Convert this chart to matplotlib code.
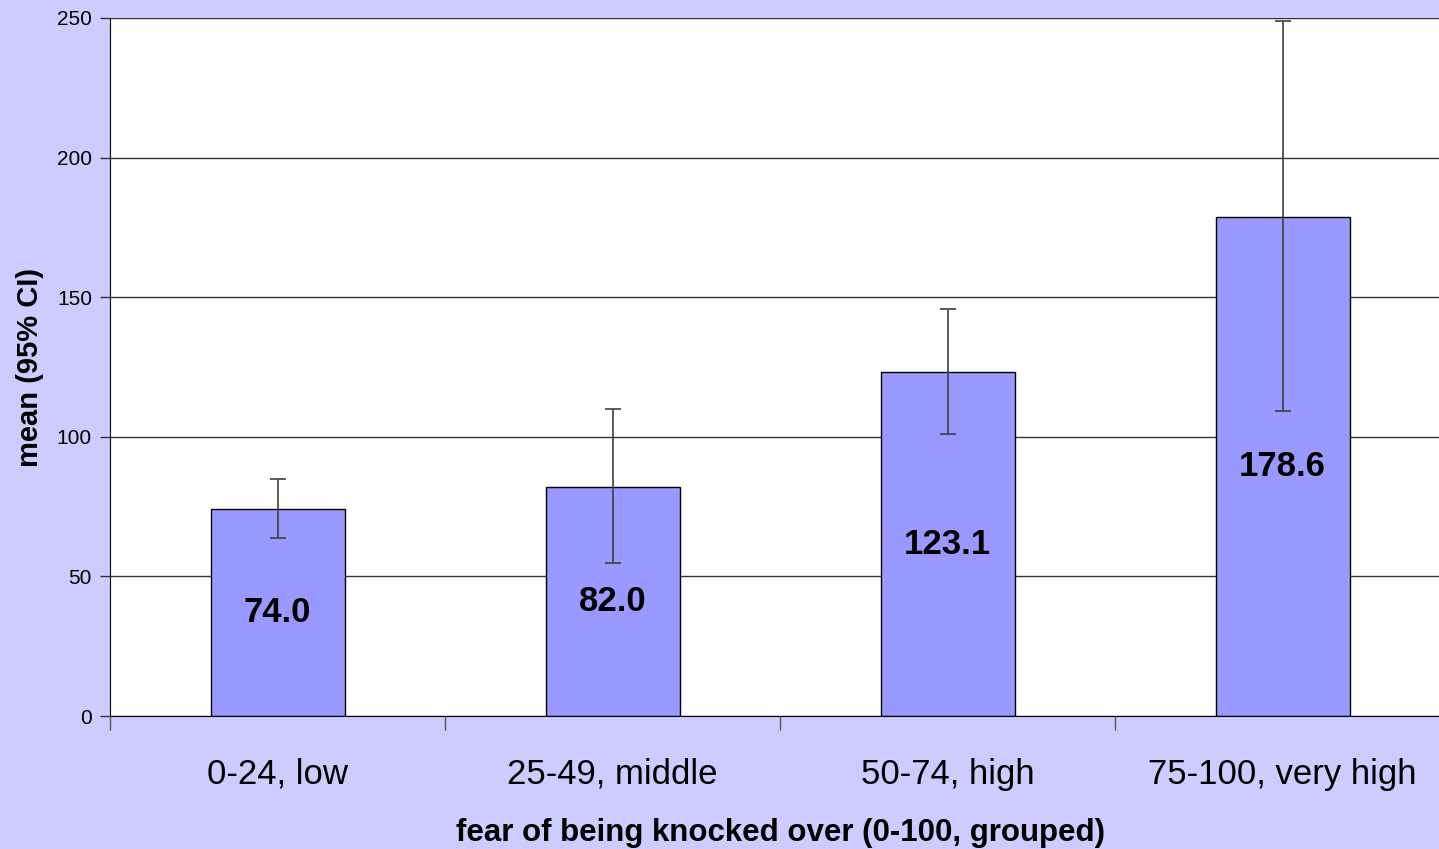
import numpy as np
import matplotlib.pyplot as plt

categories = ["0-24, low", "25-49, middle", "50-74, high", "75-100, very high"]
means = [74.0, 82.0, 123.1, 178.6]
ci_low = [63.7, 54.8, 100.9, 109.2]
ci_high = [84.9, 109.9, 145.8, 248.8]

plt.rcParams['font.family'] = ['Liberation Sans', 'DejaVu Sans']

fig = plt.figure(figsize=(14.39, 8.49), dpi=100)
fig.patch.set_facecolor('#CCCCFF')
ax = fig.add_axes([110 / 1439, 133 / 849, 1340 / 1439, 698 / 849])
ax.set_facecolor('white')

x = np.arange(len(categories))
means = np.array(means)
yerr = [means - np.array(ci_low), np.array(ci_high) - means]

ax.set_axisbelow(True)
ax.yaxis.grid(True, color='#333333', linewidth=1)
ax.bar(x, means, width=0.4, color='#9999FF', edgecolor='black', linewidth=1, zorder=2)
ax.errorbar(x, means, yerr=yerr, fmt='none', ecolor='#404040', elinewidth=1.2,
            capsize=6, capthick=1.2, zorder=3)

# value labels in the middle of each bar
for xi, m in zip(x, means):
    ax.text(xi, m / 2, f"{m:.1f}", ha='center', va='center', fontsize=25,
            fontweight='bold', zorder=4)

ax.set_xlim(-0.5, 3.5)
ax.set_ylim(0, 250)
ax.set_yticks([0, 50, 100, 150, 200, 250])
ax.tick_params(axis='y', labelsize=15, length=7, width=1, color='#333333', pad=6)

ax.set_xticks(x)
ax.set_xticklabels(categories, fontsize=25)
ax.tick_params(axis='x', length=0, pad=30)
ax.set_xticks([-0.5, 0.5, 1.5, 2.5], minor=True)
ax.tick_params(axis='x', which='minor', length=10, width=1, color='#555555')

for side in ['top', 'right']:
    ax.spines[side].set_visible(False)
ax.spines['left'].set_color('black')
ax.spines['bottom'].set_color('black')

ax.set_xlabel("fear of being knocked over (0-100, grouped)", fontsize=22.5,
              fontweight='bold', labelpad=20)
ax.set_ylabel("mean (95% CI)", fontsize=21, fontweight='bold')
ax.yaxis.set_label_coords(-0.049, 0.5)

fig.savefig('out.png', dpi=100, facecolor=fig.get_facecolor())
